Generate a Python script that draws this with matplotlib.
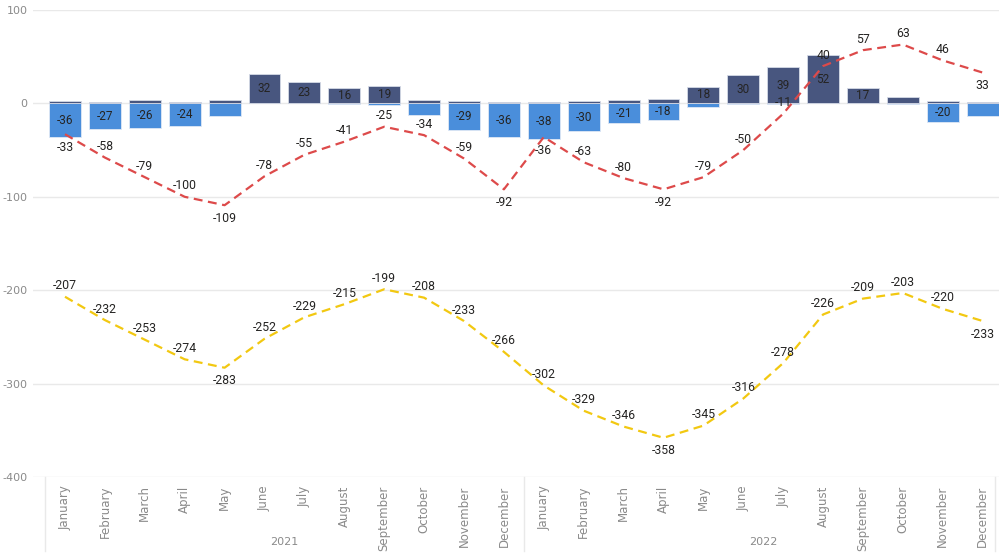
import numpy as np
import matplotlib.pyplot as plt
import matplotlib.transforms as mtransforms

plt.rcParams['axes.unicode_minus'] = False

months = ['January', 'February', 'March', 'April', 'May', 'June', 'July',
          'August', 'September', 'October', 'November', 'December']
years = ['2021', '2022']

# stacked columns: positive part (dark) and negative part (light blue)
bar_pos = [3, 2, 4, 2, 4, 32, 23, 16, 19, 4, 3, 2,
           2, 3, 4, 5, 18, 30, 39, 52, 17, 7, 3, 1]
bar_neg = [-36, -27, -26, -24, -13, 0, 0, -1, -2, -12, -29, -36,
           -38, -30, -21, -18, -4, -1, -1, 0, 0, -1, -20, -13]

red_line = [-33, -58, -79, -100, -109, -78, -55, -41, -25, -34, -59, -92,
            -36, -63, -80, -92, -79, -50, -11, 40, 57, 63, 46, 33]
yellow_line = [-207, -232, -253, -274, -283, -252, -229, -215, -199, -208, -233, -266,
               -302, -329, -346, -358, -345, -316, -278, -226, -209, -203, -220, -233]

# label placement (a = above, b = below)
red_place = list('baaabaaaaaabbaabaaaaaaab')
yellow_place = list('aaaabaaaaaaaaaabaaaaaaab')

DARK = '#48567f'
BLUE = '#4a8edb'
RED = '#dd4a4a'
YELLOW = '#f2c811'
GRID = '#e9e9e9'
AXTXT = '#8a8a8a'

x = np.arange(len(red_line))

fig = plt.figure(figsize=(9.99, 5.59), dpi=100)
ax = fig.add_axes([33 / 999, (559 - 477) / 559, (999 - 33) / 999, 467 / 559])

slot = 39.9
ax.set_xlim(-(65 - 33) / slot, (999 - 65) / slot)
ax.set_ylim(-400, 100)

for s in ax.spines.values():
    s.set_visible(False)
ax.set_yticks([100, 0, -100, -200, -300, -400])
ax.yaxis.grid(True, color=GRID, linewidth=1)
ax.set_axisbelow(True)
ax.tick_params(axis='y', length=0, labelsize=8, labelcolor=AXTXT, pad=4)

ax.bar(x, bar_neg, width=0.8, color=BLUE, edgecolor='#dfe8f5', linewidth=0.6, zorder=2)
ax.bar(x, bar_pos, width=0.8, color=DARK, edgecolor='#d5dae6', linewidth=0.6, zorder=2)

for i in x:
    if abs(bar_pos[i]) >= 15:
        ax.text(i, bar_pos[i] / 2, str(bar_pos[i]), ha='center', va='center',
                fontsize=8.5, family='Roboto', color='#252423', zorder=3)
    if abs(bar_neg[i]) >= 15:
        ax.text(i, bar_neg[i] / 2, str(bar_neg[i]), ha='center', va='center',
                fontsize=8.5, family='Roboto', color='#252423', zorder=3)

dash = (0, (4, 2.5))
ax.plot(x, red_line, color=RED, linewidth=1.6, linestyle=dash, zorder=4)
ax.plot(x, yellow_line, color=YELLOW, linewidth=1.6, linestyle=dash, zorder=4)

for vals, place in [(red_line, red_place), (yellow_line, yellow_place)]:
    for i, v in enumerate(vals):
        dy = 11 if place[i] == 'a' else -13
        ax.annotate(str(v), (i, v), xytext=(0, dy), textcoords='offset pixels',
                    ha='center', va='center', fontsize=8.8, family='Roboto',
                    color='#252423', zorder=5)

# category axis
ax.set_xticks(x)
ax.set_xticklabels(months * 2, rotation=90, fontsize=8.5, color=AXTXT, va='top')
ax.tick_params(axis='x', length=0, pad=6)

trans = mtransforms.blended_transform_factory(ax.transData, ax.transAxes)
depth = -(551 - 477) / 467
for xv in [-0.5, 11.5, 23.3]:
    ax.plot([xv, xv], [0, depth], transform=trans, color=GRID, linewidth=1, clip_on=False)
for k, yr in enumerate(years):
    ax.text(5.5 + 12 * k, -(542 - 477) / 467, yr, transform=trans, ha='center',
            va='center', fontsize=8, color=AXTXT)

fig.savefig('out.png', dpi=100)
